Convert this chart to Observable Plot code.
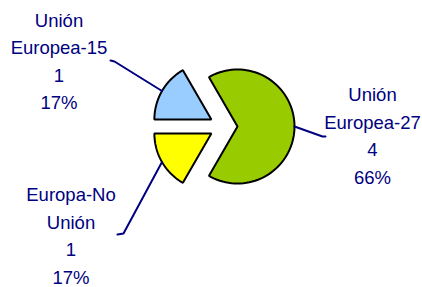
<!DOCTYPE html>
<html><head><meta charset="utf-8">
<script src="https://cdn.jsdelivr.net/npm/d3@7"></script>
<script src="https://cdn.jsdelivr.net/npm/@observablehq/plot@0.6"></script>
<style>html,body{margin:0;padding:0;background:#fff;}</style>
</head><body><div id="chart"></div>
<script>
// ---- data ----
const categories = ["Unión\nEuropea-27", "Europa-No\nUnión", "Unión\nEuropea-15"];
const values = [4, 1, 1];
const percents = ["66%", "17%", "17%"];

// ---- styles / layout ----
const colors = ["#99CC00", "#FFFF00", "#99CCFF"];
const W = 422, H = 287;
const cx = 223, cy = 126, R = 57, explodePx = 14;
// label anchor (center x, last baseline y) and leader end points, in pixels
const labelPos = [[372, 183], [70.5, 283], [58.5, 108.5]];
const leaderEnds = [[[322, 136], [325, 136]], [[123, 233], [117, 234]], [[114, 61], [110, 60]]];

const e = explodePx / R;
const pie = d3.pie().sort(null).startAngle(-Math.PI / 6).endAngle(2 * Math.PI - Math.PI / 6);
const arcs = pie(values);
const toU = ([px, py]) => ({x: (px - cx) / R, y: (py - cy) / R});

const slices = arcs.map((a, i) => {
  const mid = (a.startAngle + a.endAngle) / 2;
  const ox = e * Math.sin(mid), oy = -e * Math.cos(mid);
  const pts = [{x: ox, y: oy}];
  const n = 80;
  for (let k = 0; k <= n; k++) {
    const t = a.startAngle + (a.endAngle - a.startAngle) * k / n;
    pts.push({x: ox + Math.sin(t), y: oy - Math.cos(t)});
  }
  pts.push({x: ox, y: oy});
  return pts;
});

const leaders = arcs.map((a, i) => {
  const mid = (a.startAngle + a.endAngle) / 2;
  const start = {x: (1 + e) * Math.sin(mid), y: -(1 + e) * Math.cos(mid)};
  return [start, ...leaderEnds[i].map(toU)];
});

const labels = categories.map((c, i) => ({
  ...toU(labelPos[i]),
  text: `${c}\n${values[i]}\n${percents[i]}`
}));

const chart = Plot.plot({
  width: W, height: H,
  margin: 0,
  x: {domain: [-cx / R, (W - cx) / R], range: [0, W], axis: null},
  y: {domain: [-cy / R, (H - cy) / R], range: [0, H], axis: null},
  style: {background: "#fff", fontFamily: "'Liberation Sans', Arial, sans-serif"},
  marks: [
    ...slices.map((pts, i) => Plot.line(pts, {x: "x", y: "y", fill: colors[i], stroke: "#000", strokeWidth: 2, strokeLinejoin: "miter", curve: "linear-closed"})),
    ...leaders.map(pts => Plot.line(pts, {x: "x", y: "y", stroke: "#000080", strokeWidth: 2})),
    Plot.text(labels, {x: "x", y: "y", text: "text", fill: "#000080", fontSize: 18.5, lineHeight: 1.486, lineAnchor: "bottom", textAnchor: "middle"})
  ]
});
document.getElementById("chart").appendChild(chart);
</script>
</body></html>
